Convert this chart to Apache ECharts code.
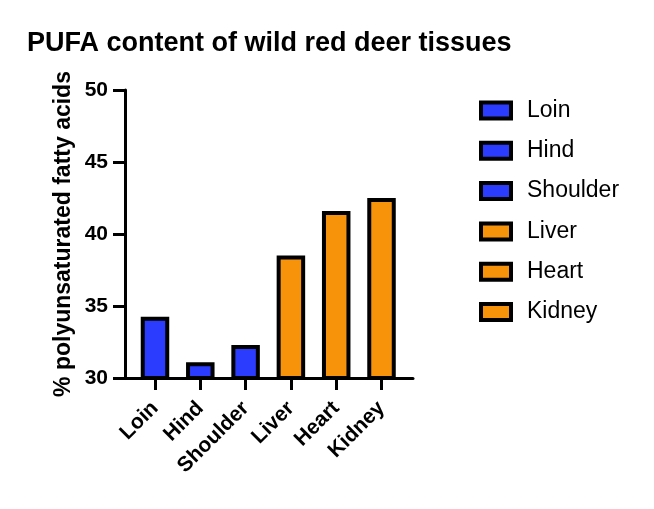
<!DOCTYPE html>
<html><head><meta charset="utf-8">
<script src="https://cdn.jsdelivr.net/npm/echarts@6/dist/echarts.min.js"></script>
<style>html,body{margin:0;padding:0;background:#fff}#c{width:654px;height:509px}</style>
</head><body><div id="c"></div>
<script>
const categories = ['Loin','Hind','Shoulder','Liver','Heart','Kidney'];
const values = [34.25, 31.1, 32.3, 38.5, 41.6, 42.5];
const barColors = ['#2b3cff','#2b3cff','#2b3cff','#f7930b','#f7930b','#f7930b'];
const yTicks = [30, 35, 40, 45, 50];

const FONT = 'Liberation Sans, Arial, Helvetica, sans-serif';
const chart = echarts.init(document.getElementById('c'));
const positions = categories.map((c, i) => i);
const series = categories.map((name, i) => ({
  name: name,
  type: 'bar',
  data: [[positions[i], values[i]]],
  barWidth: 28.5,
  barGap: '-100%',
  itemStyle: { color: barColors[i], borderColor: '#000', borderWidth: 4 },
  emphasis: { disabled: true }
}));
chart.setOption({
  animation: false,
  backgroundColor: '#fff',
  title: {
    text: 'PUFA content of wild red deer tissues',
    left: 27, top: 30,
    padding: 0,
    textStyle: { fontFamily: FONT, fontWeight: 'bold', fontSize: 27, color: '#000' }
  },
  legend: {
    data: categories,
    orient: 'vertical',
    left: 479, top: 99,
    padding: 0,
    icon: 'rect',
    itemWidth: 30, itemHeight: 16,
    itemGap: 17.3,
    itemStyle: { borderColor: '#000', borderWidth: 4 },
    textStyle: { fontFamily: FONT, fontSize: 23, color: '#000', lineHeight: 20, padding: [0,0,0,11] }
  },
  grid: { left: 125, right: 241, top: 90, bottom: 131, containLabel: false },
  xAxis: {
    type: 'value',
    min: -0.662, max: 5.695,
    splitLine: { show: false },
    axisLine: { show: true, onZero: false, lineStyle: { color: '#000', width: 3 } },
    axisTick: { show: true, customValues: positions, length: 12, lineStyle: { color: '#000', width: 3 } },
    axisLabel: {
      customValues: positions,
      formatter: v => categories[Math.round(v)] || '',
      rotate: 45, margin: 27,
      fontFamily: FONT, fontWeight: 'bold', fontSize: 21, color: '#000'
    }
  },
  yAxis: {
    type: 'value',
    min: yTicks[0], max: yTicks[yTicks.length - 1], interval: 5,
    name: '% polyunsaturated fatty acids',
    nameLocation: 'middle', nameGap: 50, nameRotate: 90,
    nameTextStyle: { fontFamily: FONT, fontWeight: 'bold', fontSize: 23, color: '#000' },
    splitLine: { show: false },
    axisLine: { show: true, onZero: false, lineStyle: { color: '#000', width: 3 } },
    axisTick: { show: true, length: 12, lineStyle: { color: '#000', width: 3 } },
    axisLabel: { margin: 17, fontFamily: FONT, fontWeight: 'bold', fontSize: 21, color: '#000' }
  },
  series: series
});
</script></body></html>
